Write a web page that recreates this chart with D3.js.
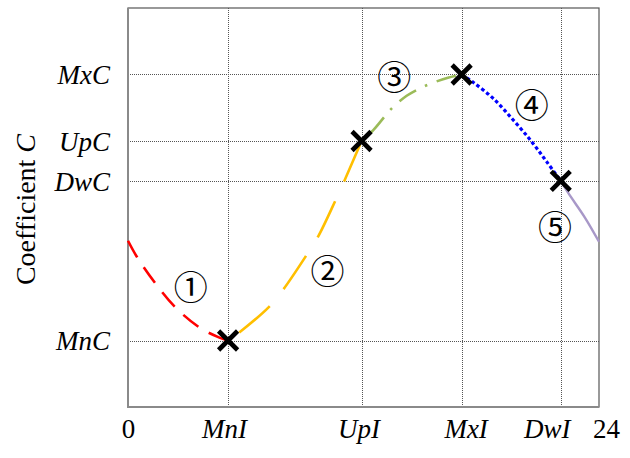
<!DOCTYPE html>
<html>
<head>
<meta charset="utf-8">
<script src="https://cdn.jsdelivr.net/npm/d3@7"></script>
<style>
  html, body { margin: 0; padding: 0; background: #fff; }
  svg { display: block; }
</style>
</head>
<body>
<svg id="chart" width="630" height="458"></svg>
<script>
// Axis ticks (hours on x, coefficient levels on y)
const xTickValues = [0, 5.1, 11.9, 17, 22.05, 24];
const xTickLabels = ["0", "MnI", "UpI", "MxI", "DwI", "24"];
const yTickValues = [2, 6.8, 8, 10];
const yTickLabels = ["MnC", "DwC", "UpC", "MxC"];

// Curve pieces, one per phase
const phase1 = [[0, 5.0], [0.46, 4.51], [1.38, 3.73], [2.39, 3.01], [3.67, 2.38], [4.69, 2.08], [5.1, 2.0]];
const phase2 = [[5.1, 2.0], [5.62, 2.22], [7.2, 3.02], [7.92, 3.54], [9.1, 4.57], [9.7, 5.14], [10.6, 6.25], [11.06, 6.85], [11.9, 8.0]];
const phase3 = [[11.9, 8.0], [12.5, 8.33], [13.0, 8.68], [13.44, 8.98], [14.2, 9.36], [14.76, 9.55], [15.39, 9.72], [16.3, 9.9], [17, 10]];
const phase4 = [[17, 10], [17.6, 9.76], [18.61, 9.28], [19.63, 8.63], [20.57, 7.98], [21.33, 7.38], [22.05, 6.8]];
const phase5 = [[22.05, 6.8], [22.44, 6.43], [23.29, 5.69], [24, 4.97]];
const phaseNames = ["①", "②", "③", "④", "⑤"];

// Turning points
const keyX = [5.1, 11.9, 17, 22.05];
const keyY = [2, 8, 10, 6.8];

const textFamily = '"Liberation Serif", "Tinos", "Liberation Sans", "Arimo", sans-serif';
const circFamily = '"Noto Sans CJK JP", "Noto Sans CJK SC", sans-serif';

const svg = d3.select("#chart");
const plotL = 128, plotR = 599, plotT = 8, plotB = 407;

const x = d3.scaleLinear().domain([0, 24]).range([plotL, plotR]);
const y = d3.scaleLinear().domain([0, 12]).range([plotB, plotT]);

// grid
const grid = svg.append("g").attr("stroke", "#555").attr("stroke-width", 1).attr("stroke-dasharray", "1,1");
grid.selectAll("line.v").data(xTickValues.slice(1, -1)).join("line")
  .attr("x1", d => Math.round(x(d)) + 0.5).attr("x2", d => Math.round(x(d)) + 0.5)
  .attr("y1", plotT).attr("y2", plotB);
grid.selectAll("line.h").data(yTickValues).join("line")
  .attr("y1", d => Math.round(y(d)) + 0.5).attr("y2", d => Math.round(y(d)) + 0.5)
  .attr("x1", plotL).attr("x2", plotR);

// frame
svg.append("rect").attr("x", plotL).attr("y", plotT).attr("width", plotR - plotL).attr("height", plotB - plotT)
  .attr("fill", "none").attr("stroke", "#555").attr("stroke-width", 1.2);
svg.append("path").attr("d", `M${plotL},${plotT}V${plotB}H${plotR}`)
  .attr("fill", "none").attr("stroke", "#8a8a8a").attr("stroke-width", 2);

// axis labels via d3 axes (lines hidden, text only)
const xAxis = d3.axisBottom(x).tickValues(xTickValues).tickFormat((d, i) => xTickLabels[i]).tickSize(0).tickPadding(0);
const gx = svg.append("g").attr("transform", `translate(0,${plotB})`).call(xAxis);
gx.select(".domain").remove();
gx.attr("font-family", textFamily).attr("font-size", 27);
const xNudge = [0, -4, -3, 4, -14, 7];
gx.selectAll("text")
  .attr("fill", "#000")
  .attr("dy", 0)
  .attr("y", 31)
  .attr("dx", (d, i) => xNudge[i])
  .attr("font-style", (d, i) => i === 0 || i === xTickLabels.length - 1 ? "normal" : "italic");

const yAxis = d3.axisLeft(y).tickValues(yTickValues).tickFormat((d, i) => yTickLabels[i]).tickSize(0).tickPadding(18);
const gy = svg.append("g").attr("transform", `translate(${plotL},0)`).call(yAxis);
gy.select(".domain").remove();
gy.attr("font-family", textFamily).attr("font-size", 27);
gy.selectAll("text")
  .attr("font-style", "italic")
  .attr("fill", "#000")
  .attr("dy", "0.34em");

// y title
const yt = svg.append("text")
  .attr("font-family", textFamily)
  .attr("transform", `translate(35,${(plotT + plotB) / 2 + 2}) rotate(-90)`)
  .attr("text-anchor", "middle").attr("font-size", 28);
yt.append("tspan").text("Coefficient ");
yt.append("tspan").attr("font-style", "italic").text("C");

// curve pieces
const line = d3.line().x(d => x(d[0])).y(d => y(d[1])).curve(d3.curveCatmullRom.alpha(0.5));
const styles = [
  { data: phase1, color: "#ff0000", width: 2.6, dash: "19,12" },
  { data: phase2, color: "#ffbf00", width: 2.6, dash: "40,22", offset: 48 },
  { data: phase3, color: "#9bbb59", width: 2.6, dash: "20,10,2.5,10", offset: 30 },
  { data: phase4, color: "#0000ff", width: 3.2, dash: "3.5,2.6" },
  { data: phase5, color: "#a898c8", width: 2.4, dash: null }
];
styles.forEach(st => {
  svg.append("path").datum(st.data)
    .attr("d", line)
    .attr("fill", "none")
    .attr("stroke", st.color)
    .attr("stroke-width", st.width)
    .attr("stroke-dasharray", st.dash)
    .attr("stroke-dashoffset", st.offset || 0);
});

// phase numbers
const phaseAt = [[3.2, 3.65], [10.16, 4.14], [13.57, 9.98], [20.57, 9.13], [21.76, 5.47]];
svg.selectAll("text.phase").data(phaseNames).join("text")
  .attr("class", "phase")
  .attr("font-family", circFamily)
  .attr("x", (d, i) => x(phaseAt[i][0]))
  .attr("y", (d, i) => y(phaseAt[i][1]))
  .attr("text-anchor", "middle")
  .attr("dominant-baseline", "central")
  .attr("font-size", 34)
  .text(d => d);

// turning-point crosses
const arm = 9.5;
const marks = svg.append("g").attr("stroke", "#000").attr("stroke-width", 4.6);
keyX.forEach((kx, i) => {
  const cx = x(kx), cy = y(keyY[i]);
  marks.append("path").attr("d", `M${cx - arm},${cy - arm}L${cx + arm},${cy + arm}M${cx - arm},${cy + arm}L${cx + arm},${cy - arm}`);
});
</script>
</body>
</html>
